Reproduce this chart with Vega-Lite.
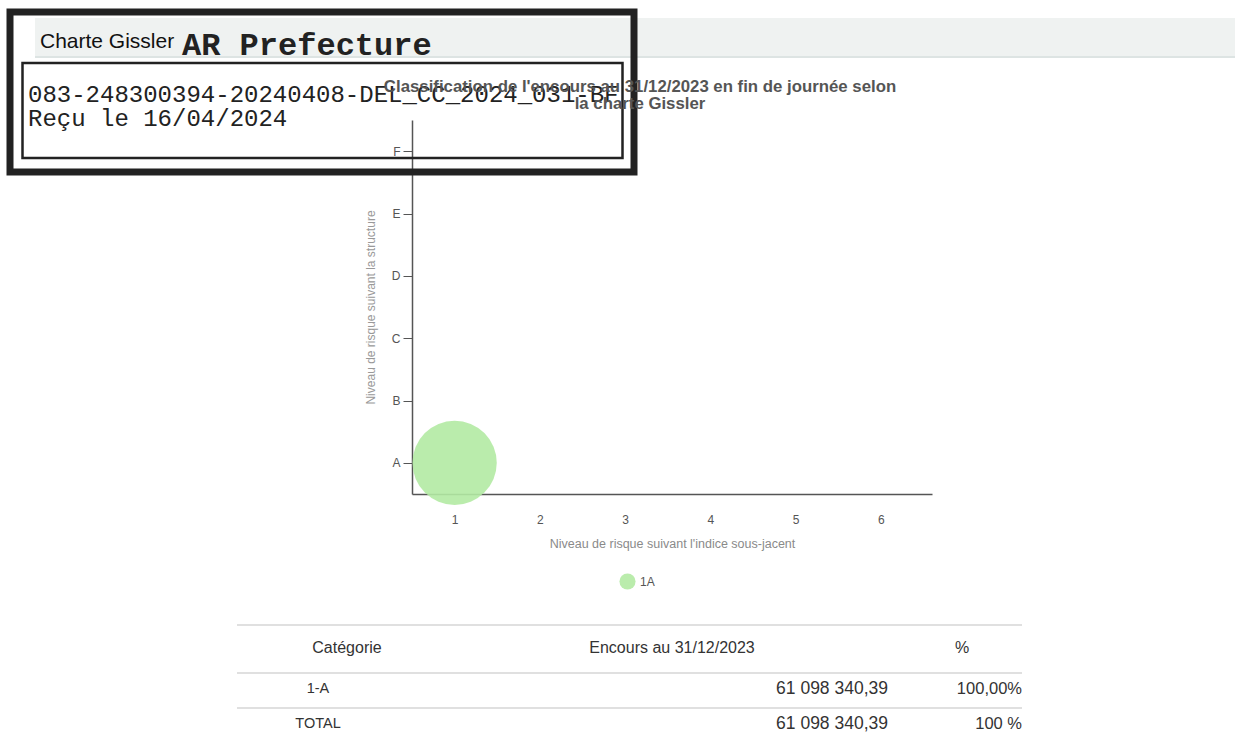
{
  "$schema": "https://vega.github.io/schema/vega-lite/v6.json",
  "autosize": {"type": "none"},
  "width": 520,
  "height": 374,
  "padding": {"left": 412, "top": 120, "right": 303, "bottom": 248},
  "background": "white",
  "title": {
    "text": ["Classification de l'encours au 31/12/2023 en fin de journée selon", "la charte Gissler"],
    "frame": "group", "anchor": "middle", "dx": -32, "dy": 113, "offset": 9,
    "font": "Liberation Sans", "fontSize": 16.8, "fontWeight": "bold", "color": "#555555", "lineHeight": 17
  },
  "config": {"view": {"stroke": null}, "axis": {"grid": false}},
  "datasets": {
    "gissler": [
      {"categorie": "1A", "indice": 1, "structure": "A", "encours": 61098340.39}
    ],
    "tableau": [
      {"ligne": 0, "col": 0, "texte": "Catégorie"},
      {"ligne": 0, "col": 1, "texte": "Encours au 31/12/2023"},
      {"ligne": 0, "col": 2, "texte": "%"},
      {"ligne": 1, "col": 0, "texte": "1-A"},
      {"ligne": 1, "col": 1, "texte": "61 098 340,39"},
      {"ligne": 1, "col": 2, "texte": "100,00%"},
      {"ligne": 2, "col": 0, "texte": "TOTAL"},
      {"ligne": 2, "col": 1, "texte": "61 098 340,39"},
      {"ligne": 2, "col": 2, "texte": "100 %"}
    ],
    "tampon": [
      {"ligne": 0, "texte": "083-248300394-20240408-DEL_CC_2024_031-BF"},
      {"ligne": 1, "texte": "Reçu le 16/04/2024"}
    ]
  },
  "resolve": {"scale": {"x": "independent", "y": "independent", "color": "independent", "size": "independent"}},
  "layer": [
    {
      "data": {"values": [{"zone": "bandeau"}]},
      "mark": {"type": "rect", "fill": "#eff2f1"},
      "encoding": {
        "x": {"datum": 0, "type": "quantitative", "scale": {"domain": [0, 1], "range": [-377, 823]}, "axis": null},
        "x2": {"datum": 1},
        "y": {"datum": 0, "type": "quantitative", "scale": {"domain": [0, 1], "range": [-102, -64]}, "axis": null},
        "y2": {"datum": 1}
      }
    },
    {
      "data": {"values": [{"zone": "filet"}]},
      "mark": {"type": "rule", "stroke": "#dde4e3", "strokeWidth": 2},
      "encoding": {
        "x": {"datum": 0, "type": "quantitative", "scale": {"domain": [0, 1], "range": [-377, 823]}, "axis": null},
        "x2": {"datum": 1},
        "y": {"datum": 0, "type": "quantitative", "scale": {"domain": [0, 1], "range": [-63, 0]}, "axis": null}
      }
    },
    {
      "data": {"values": [{"bord": 0}, {"bord": 1}, {"bord": 2}]},
      "mark": {"type": "rule", "stroke": "#d6d6d6", "strokeWidth": 1.5},
      "encoding": {
        "x": {"datum": 0, "type": "quantitative", "scale": {"domain": [0, 1], "range": [-175, 610]}, "axis": null},
        "x2": {"datum": 1},
        "y": {"field": "bord", "type": "quantitative", "scale": {"domain": [0, 1, 2], "range": [505, 553, 588], "nice": false, "zero": false}, "axis": null}
      }
    },
    {
      "data": {"name": "gissler"},
      "mark": {"type": "circle", "opacity": 0.9},
      "encoding": {
        "x": {
          "field": "indice", "type": "quantitative",
          "scale": {"domain": [0.5, 6.6], "nice": false, "zero": false},
          "axis": {
            "values": [1, 2, 3, 4, 5, 6], "ticks": false, "grid": false,
            "domainColor": "#555555", "domainWidth": 1.5,
            "labelColor": "#555555", "labelFontSize": 12, "labelPadding": 20, "labelFont": "Liberation Sans",
            "title": "Niveau de risque suivant l'indice sous-jacent",
            "titleColor": "#8a8a8a", "titleFontSize": 12.5, "titleFontWeight": "normal", "titlePadding": 12, "titleFont": "Liberation Sans"
          }
        },
        "y": {
          "field": "structure", "type": "ordinal",
          "scale": {"domain": ["F", "E", "D", "C", "B", "A"], "padding": 0.5},
          "axis": {
            "grid": false, "tickSize": 9, "tickColor": "#555555", "domainColor": "#555555", "domainWidth": 1.5,
            "labelColor": "#555555", "labelFontSize": 12, "labelPadding": 3, "labelFont": "Liberation Sans", "labelAngle": 0,
            "title": "Niveau de risque suivant la structure",
            "titleColor": "#999999", "titleFontSize": 12, "titleFontWeight": "normal", "titlePadding": 14, "titleFont": "Liberation Sans"
          }
        },
        "size": {"field": "encours", "type": "quantitative", "scale": {"domain": [0, 61098340.39], "range": [0, 7100]}, "legend": null},
        "color": {
          "field": "categorie", "type": "nominal",
          "scale": {"range": ["#b2eaa3"]},
          "legend": {
            "orient": "none", "legendX": 207, "legendY": 453, "title": null, "padding": 0,
            "symbolType": "circle", "symbolSize": 260, "symbolStrokeWidth": 0,
            "labelFontSize": 12, "labelColor": "#555555", "labelFont": "Liberation Sans"
          }
        }
      }
    },
    {
      "data": {"name": "tableau"},
      "transform": [{"filter": "datum.ligne == 0"}],
      "mark": {"type": "text", "align": "center", "baseline": "middle", "font": "Liberation Sans", "fontSize": 16, "color": "#333333"},
      "encoding": {
        "x": {"field": "col", "type": "quantitative", "scale": {"domain": [0, 1, 2], "range": [-65, 260, 550], "nice": false, "zero": false}, "axis": null},
        "y": {"field": "ligne", "type": "quantitative", "scale": {"domain": [0, 1], "range": [528, 569], "nice": false, "zero": false}, "axis": null},
        "text": {"field": "texte"}
      }
    },
    {
      "data": {"name": "tableau"},
      "transform": [{"filter": "datum.ligne > 0 && datum.col == 0"}],
      "mark": {"type": "text", "align": "center", "baseline": "middle", "font": "Liberation Sans", "fontSize": 14.5, "color": "#333333"},
      "encoding": {
        "x": {"field": "col", "type": "quantitative", "scale": {"domain": [0, 1], "range": [-94, 0], "nice": false, "zero": false}, "axis": null},
        "y": {"field": "ligne", "type": "quantitative", "scale": {"domain": [1, 2], "range": [569, 604], "nice": false, "zero": false}, "axis": null},
        "text": {"field": "texte"}
      }
    },
    {
      "data": {"name": "tableau"},
      "transform": [{"filter": "datum.ligne > 0 && datum.col == 1"}],
      "mark": {"type": "text", "align": "right", "baseline": "middle", "font": "Liberation Sans", "fontSize": 17.5, "color": "#333333"},
      "encoding": {
        "x": {"field": "col", "type": "quantitative", "scale": {"domain": [1, 2], "range": [476, 610], "nice": false, "zero": false}, "axis": null},
        "y": {"field": "ligne", "type": "quantitative", "scale": {"domain": [1, 2], "range": [569, 604], "nice": false, "zero": false}, "axis": null},
        "text": {"field": "texte"}
      }
    },
    {
      "data": {"name": "tableau"},
      "transform": [{"filter": "datum.ligne > 0 && datum.col == 2"}],
      "mark": {"type": "text", "align": "right", "baseline": "middle", "font": "Liberation Sans", "fontSize": 16.5, "color": "#333333"},
      "encoding": {
        "x": {"field": "col", "type": "quantitative", "scale": {"domain": [1, 2], "range": [476, 610], "nice": false, "zero": false}, "axis": null},
        "y": {"field": "ligne", "type": "quantitative", "scale": {"domain": [1, 2], "range": [569, 604], "nice": false, "zero": false}, "axis": null},
        "text": {"field": "texte"}
      }
    },
    {
      "data": {"values": [{"cadre": "exterieur"}]},
      "mark": {"type": "rect", "filled": false, "stroke": "#222222", "strokeWidth": 7},
      "encoding": {
        "x": {"datum": 0, "type": "quantitative", "scale": {"domain": [0, 1], "range": [-402, 222]}, "axis": null},
        "x2": {"datum": 1},
        "y": {"datum": 0, "type": "quantitative", "scale": {"domain": [0, 1], "range": [-108, 52]}, "axis": null},
        "y2": {"datum": 1}
      }
    },
    {
      "data": {"values": [{"cadre": "interieur"}]},
      "mark": {"type": "rect", "filled": false, "stroke": "#222222", "strokeWidth": 2.5},
      "encoding": {
        "x": {"datum": 0, "type": "quantitative", "scale": {"domain": [0, 1], "range": [-389.5, 210.5]}, "axis": null},
        "x2": {"datum": 1},
        "y": {"datum": 0, "type": "quantitative", "scale": {"domain": [0, 1], "range": [-57, 38]}, "axis": null},
        "y2": {"datum": 1}
      }
    },
    {
      "data": {"values": [{"texte": "Charte Gissler"}]},
      "mark": {"type": "text", "align": "left", "baseline": "middle", "font": "Liberation Sans", "fontSize": 21, "color": "#111111"},
      "encoding": {
        "x": {"datum": 0, "type": "quantitative", "scale": {"domain": [0, 1], "range": [-372, 0]}, "axis": null},
        "y": {"datum": 0, "type": "quantitative", "scale": {"domain": [0, 1], "range": [-78, 0]}, "axis": null},
        "text": {"field": "texte"}
      }
    },
    {
      "data": {"values": [{"texte": "AR Prefecture"}]},
      "mark": {"type": "text", "align": "left", "baseline": "middle", "font": "Liberation Mono", "fontWeight": "bold", "fontSize": 32, "color": "#222222"},
      "encoding": {
        "x": {"datum": 0, "type": "quantitative", "scale": {"domain": [0, 1], "range": [-230, 0]}, "axis": null},
        "y": {"datum": 0, "type": "quantitative", "scale": {"domain": [0, 1], "range": [-75, 0]}, "axis": null},
        "text": {"field": "texte"}
      }
    },
    {
      "data": {"name": "tampon"},
      "mark": {"type": "text", "align": "left", "baseline": "middle", "font": "Liberation Mono", "fontSize": 24, "color": "#222222"},
      "encoding": {
        "x": {"datum": 0, "type": "quantitative", "scale": {"domain": [0, 1], "range": [-384, 0]}, "axis": null},
        "y": {"field": "ligne", "type": "quantitative", "scale": {"domain": [0, 1], "range": [-25, -1], "nice": false, "zero": false}, "axis": null},
        "text": {"field": "texte"}
      }
    }
  ]
}
